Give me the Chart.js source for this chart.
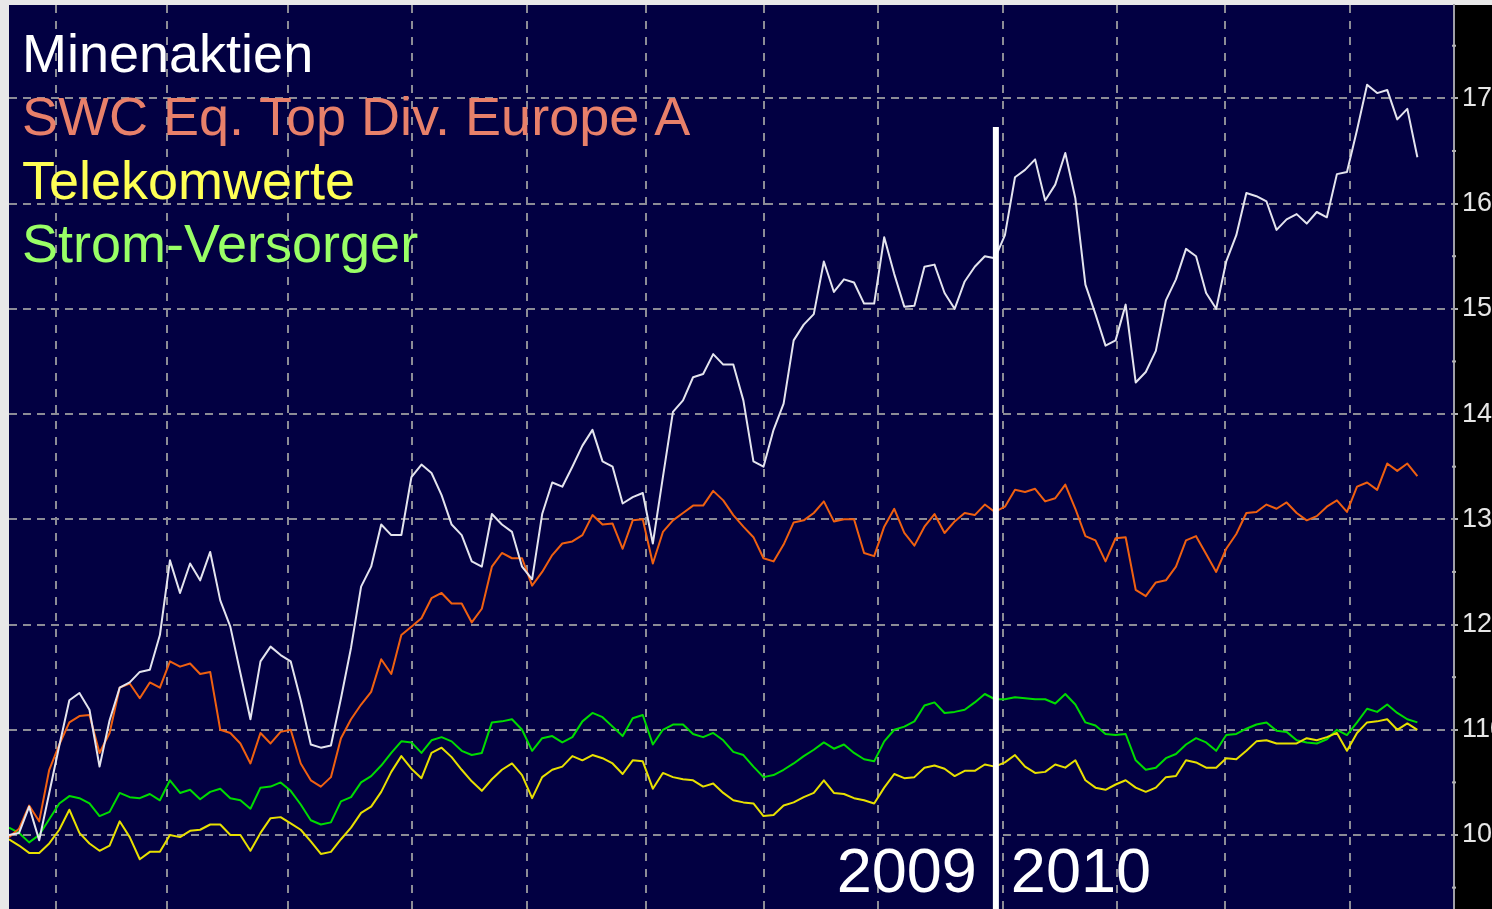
<!DOCTYPE html>
<html>
<head>
<meta charset="utf-8">
<title>Minenaktien</title>
<script src="https://cdn.jsdelivr.net/npm/chart.js@4.4.1/dist/chart.umd.min.js"></script>
<style>
  html, body { margin: 0; padding: 0; background: #e8e8e8; overflow: hidden; }
  #wrap { width: 1492px; height: 909px; }
</style>
</head>
<body>
<div id="wrap"><canvas id="chart" width="1492" height="909"></canvas></div>
<script>
// series names / colours (legend is drawn as text in the upper left)
const seriesNames = ['Minenaktien', 'SWC Eq. Top Div. Europe A', 'Telekomwerte', 'Strom-Versorger'];

// values, one point roughly every 10 px
const minenaktien = [
  100, 100.2, 102.7, 99.5, 104, 108.5, 112.8, 113.5, 111.9, 106.5,
  110.9, 114, 114.5, 115.5, 115.7, 119, 126.1, 123, 125.8, 124.2,
  126.9, 122.3, 119.8, 115.4, 111, 116.5, 117.9, 117.1, 116.5, 112.8,
  108.6, 108.3, 108.5, 113, 117.8, 123.6, 125.5, 129.5, 128.5, 128.5,
  134, 135.2, 134.4, 132.3, 129.5, 128.5, 126, 125.5, 130.5, 129.5,
  128.8, 125.5, 124.3, 130.5, 133.5, 133.1, 135, 137, 138.5, 135.5,
  135, 131.5, 132.1, 132.5, 127.7, 134, 140.2, 141.3, 143.5, 143.8,
  145.7, 144.7, 144.7, 141.3, 135.5, 135, 138.5, 141, 147, 148.5,
  149.5, 154.5, 151.6, 152.8, 152.5, 150.5, 150.5, 156.8, 153.3, 150.2,
  150.3, 154, 154.2, 151.5, 150, 152.6, 154, 155, 154.8, 157,
  162.5, 163.2, 164.2, 160.3, 161.8, 164.8, 160.5, 152.3, 149.5, 146.5,
  147, 150.4, 143, 144, 146, 150.8, 152.8, 155.7, 155, 151.5,
  150, 154.5, 157, 161, 160.7, 160.2, 157.5, 158.5, 159, 158.1,
  159.2, 158.7, 162.8, 163, 167, 171.3, 170.5, 170.8, 168, 169, 164.4
];

const swcTopDiv = [
  99.8, 100.6, 102.8, 101.3, 106.2, 108.6, 110.7, 111.3, 111.4, 107.8,
  109.7, 114, 114.4, 113, 114.5, 114, 116.5, 116, 116.3, 115.3,
  115.5, 110, 109.7, 108.7, 106.8, 109.7, 108.7, 109.8, 110, 106.8,
  105.2, 104.6, 105.5, 109.2, 111, 112.4, 113.6, 116.7, 115.3, 119,
  119.8, 120.6, 122.5, 123, 122, 122, 120.2, 121.5, 125.5, 126.8,
  126.3, 126.3, 123.7, 125, 126.6, 127.7, 127.9, 128.5, 130.4, 129.5,
  129.6, 127.2, 129.9, 130, 125.8, 128.8, 129.9, 130.6, 131.3, 131.3,
  132.7, 131.8, 130.4, 129.3, 128.3, 126.3, 126, 127.6, 129.7, 129.9,
  130.6, 131.7, 129.8, 130, 130, 126.8, 126.5, 129.3, 131, 128.7,
  127.5, 129.3, 130.5, 128.7, 129.8, 130.6, 130.4, 131.4, 130.7, 131.2,
  132.8, 132.6, 132.9, 131.7, 132, 133.3, 131, 128.4, 128, 126,
  128.2, 128.3, 123.3, 122.7, 124, 124.2, 125.5, 128, 128.4, 126.7,
  125, 127.2, 128.6, 130.6, 130.7, 131.4, 131, 131.6, 130.6, 129.9,
  130.3, 131.2, 131.8, 130.7, 133.1, 133.5, 132.8, 135.3, 134.6, 135.3, 134.1
];

const telekom = [
  99.6, 99, 98.3, 98.3, 99.2, 100.5, 102.4, 100.2, 99.2, 98.5,
  99, 101.3, 99.8, 97.7, 98.4, 98.4, 100, 99.8, 100.4, 100.5,
  101, 101, 100, 100, 98.5, 100.2, 101.6, 101.7, 101.1, 100.5,
  99.4, 98.2, 98.4, 99.6, 100.7, 102.1, 102.7, 104.1, 106, 107.5,
  106.3, 105.4, 107.8, 108.3, 107.4, 106.2, 105.1, 104.2, 105.3, 106.2,
  106.8, 105.7, 103.5, 105.5, 106.2, 106.5, 107.5, 107.1, 107.6, 107.3,
  106.8, 105.8, 107.1, 107, 104.4, 105.9, 105.5, 105.3, 105.2, 104.6,
  104.9, 104, 103.3, 103.1, 103, 101.8, 101.9, 102.8, 103.1, 103.6,
  104, 105.2, 104, 103.9, 103.5, 103.3, 103, 104.5, 105.8, 105.4,
  105.5, 106.4, 106.6, 106.3, 105.6, 106.1, 106.1, 106.7, 106.5, 106.9,
  107.6, 106.5, 105.9, 106, 106.7, 106.4, 107.1, 105.2, 104.5, 104.3,
  104.8, 105.2, 104.5, 104.1, 104.5, 105.5, 105.6, 107.1, 106.9, 106.4,
  106.4, 107.3, 107.2, 108, 108.9, 109, 108.7, 108.7, 108.7, 109.2,
  109, 109.3, 109.7, 108, 109.7, 110.7, 110.8, 111, 110, 110.6, 110
];

const stromVersorger = [
  100.7, 100.2, 99.3, 100, 101.5, 103, 103.7, 103.5, 103, 101.8,
  102.2, 104, 103.6, 103.5, 103.9, 103.3, 105.2, 104, 104.3, 103.4,
  104.1, 104.4, 103.5, 103.3, 102.5, 104.5, 104.6, 105, 104.2, 102.9,
  101.4, 101, 101.2, 103.2, 103.6, 105, 105.6, 106.6, 107.8, 108.9,
  108.8, 107.8, 109, 109.3, 108.9, 108, 107.6, 107.8, 110.7, 110.8,
  111, 110, 108, 109.2, 109.4, 108.8, 109.3, 110.8, 111.6, 111.2,
  110.3, 109.4, 111.1, 111.4, 108.6, 110, 110.5, 110.5, 109.6, 109.3,
  109.7, 109, 107.9, 107.6, 106.5, 105.5, 105.7, 106.2, 106.8, 107.5,
  108.1, 108.8, 108.2, 108.6, 107.8, 107.2, 107, 108.9, 110, 110.3,
  110.8, 112.3, 112.6, 111.6, 111.7, 111.9, 112.6, 113.4, 112.9, 112.9,
  113.1, 113, 112.9, 112.9, 112.5, 113.4, 112.4, 110.7, 110.4, 109.6,
  109.5, 109.6, 107.1, 106.2, 106.4, 107.3, 107.7, 108.6, 109.2, 108.8,
  108, 109.5, 109.6, 110.1, 110.5, 110.7, 109.9, 109.8, 109, 108.8,
  108.7, 109.1, 110, 109.5, 110.7, 112, 111.7, 112.4, 111.6, 111, 110.7
];

// axis ticks
const yTicks = [100, 110, 120, 130, 140, 150, 160, 170];
const yMinorTicks = [95, 105, 115, 125, 135, 145, 155, 165, 175];
// month boundaries, in point index units
const monthTicks = [4.67, 15.71, 27.73, 40.06, 51.49, 63.32, 75.05, 86.38, 98.81, 110.14, 120.87, 133.3];
// turn of the year 2009 / 2010
const yearBreak = 98.1;
const yearLabels = ['2009', '2010'];

const FONT = "'Liberation Sans', Arial, sans-serif";

function toPoints(arr) {
  return arr.map((v, i) => ({ x: i, y: v }));
}

// no automatic padding: the plot has to fill the canvas edge to edge
function noPadding(s) {
  s.paddingTop = 0;
  s.paddingBottom = 0;
  s.paddingLeft = 0;
  s.paddingRight = 0;
}

const decorations = {
  id: 'decorations',
  beforeDraw(chart) {
    const { ctx, chartArea: a, width, height } = chart;
    ctx.save();
    ctx.fillStyle = '#e8e8e8';
    ctx.fillRect(0, 0, width, height);
    ctx.fillStyle = '#000000';
    ctx.fillRect(a.right, a.top, width - a.right, height - a.top);
    ctx.fillStyle = '#020042';
    ctx.fillRect(a.left, a.top, a.right - a.left, height - a.top);
    ctx.restore();
  },
  afterDraw(chart) {
    const { ctx, chartArea: a, scales } = chart;
    ctx.save();

    // minor marks on the value axis
    ctx.strokeStyle = '#b4b4b4';
    ctx.lineWidth = 2;
    yMinorTicks.forEach(v => {
      const y = scales.y.getPixelForValue(v);
      if (y < a.top || y > a.bottom) return;
      ctx.beginPath();
      ctx.moveTo(a.right - 2, y);
      ctx.lineTo(a.right + 2, y);
      ctx.stroke();
    });

    // year separator
    const xb = scales.x.getPixelForValue(yearBreak);
    ctx.fillStyle = '#ffffff';
    ctx.fillRect(xb - 3, 127, 6, chart.height - 127);

    ctx.font = '63px ' + FONT;
    ctx.textBaseline = 'alphabetic';
    ctx.textAlign = 'right';
    ctx.fillText(yearLabels[0], xb - 19, 892);
    ctx.textAlign = 'left';
    ctx.fillText(yearLabels[1], xb + 15, 892);

    // legend text
    const colors = ['#ffffff', '#e8806a', '#ffff55', '#99ff66'];
    ctx.font = '54px ' + FONT;
    ctx.textAlign = 'left';
    seriesNames.forEach((name, k) => {
      ctx.fillStyle = colors[k];
      ctx.fillText(name, a.left + 13, 72 + k * 63.3);
    });
    ctx.restore();
  }
};

const chart = new Chart(document.getElementById('chart').getContext('2d'), {
  type: 'line',
  data: {
    datasets: [{
      label: seriesNames[0],
      data: toPoints(minenaktien),
      borderColor: '#e4e4ee',
      borderWidth: 2
    }, {
      label: seriesNames[1],
      data: toPoints(swcTopDiv),
      borderColor: '#f06010',
      borderWidth: 2
    }, {
      label: seriesNames[2],
      data: toPoints(telekom),
      borderColor: '#e8e000',
      borderWidth: 2
    }, {
      label: seriesNames[3],
      data: toPoints(stromVersorger),
      borderColor: '#00dc00',
      borderWidth: 2
    }]
  },
  options: {
    responsive: false,
    animation: false,
    devicePixelRatio: 1,
    layout: { padding: { left: 9, top: 5, right: 0, bottom: 0 }, autoPadding: false },
    elements: {
      point: { radius: 0 },
      line: { tension: 0, borderJoinStyle: 'round' }
    },
    plugins: {
      legend: { display: false },
      tooltip: { enabled: false }
    },
    scales: {
      x: {
        type: 'linear',
        min: 0,
        max: 143.64,
        afterBuildTicks: s => { s.ticks = monthTicks.map(v => ({ value: v })); },
        afterFit: s => { s.height = 0; noPadding(s); },
        ticks: { display: false },
        grid: { color: '#8c8c96', lineWidth: 2, drawTicks: false },
        border: { display: false, dash: [8, 8] }
      },
      y: {
        position: 'right',
        min: 92.97,
        max: 178.87,
        afterBuildTicks: s => { s.ticks = yTicks.map(v => ({ value: v })); },
        afterFit: s => { s.width = 38; noPadding(s); },
        grid: { color: '#8c8c96', lineWidth: 2, tickLength: 4, tickColor: '#b4b4b4', tickWidth: 2 },
        border: { display: true, color: '#a0a0a8', width: 2, dash: [8, 6] },
        ticks: {
          color: '#e6e6e6',
          padding: 4,
          font: { family: "'Liberation Sans Narrow', 'Liberation Sans', Arial, sans-serif", size: 27 }
        }
      }
    }
  },
  plugins: [decorations]
});
</script>
</body>
</html>
